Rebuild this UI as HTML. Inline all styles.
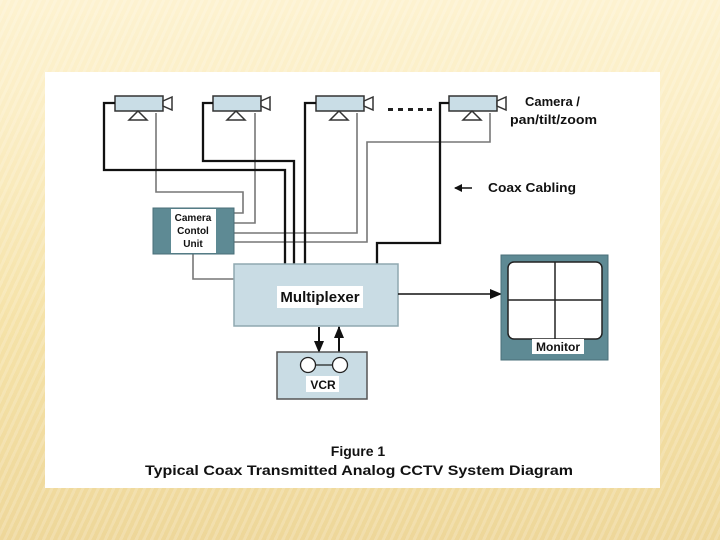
<!DOCTYPE html>
<html><head><meta charset="utf-8"><style>
html,body{margin:0;padding:0;}
body{width:720px;height:540px;overflow:hidden;position:relative;
background:
repeating-linear-gradient(115deg, rgba(255,255,255,0.18) 0 3px, rgba(0,0,0,0) 3px 7px),
linear-gradient(180deg,#fdf2d0 0%,#fbeec6 20%,#f5e2a8 60%,#eed79a 100%);}
#panel{position:absolute;left:45px;top:72px;width:615px;height:416px;background:#fff;}
svg{position:absolute;left:0;top:0;}
text{font-family:"Liberation Sans",Arial,sans-serif;font-weight:bold;fill:#111;}
</style></head><body>
<div id="panel"></div>
<svg width="720" height="540" viewBox="0 0 720 540">
<defs>
<g id="cam">
<rect x="0" y="0" width="48" height="15" fill="#c9dde6" stroke="#333" stroke-width="1.5"/>
<path d="M48 5 L57 1 L57 14 L48 10 Z" fill="#fff" stroke="#333" stroke-width="1.5"/>
<path d="M23 15 L14 24 L32 24 Z" fill="#fff" stroke="#333" stroke-width="1.5"/>
</g>
<marker id="ah" markerWidth="8" markerHeight="8" refX="7" refY="4" orient="auto" markerUnits="userSpaceOnUse"><path d="M0 0 L8 4 L0 8 Z" fill="#111"/></marker>
<marker id="ah2" markerWidth="12" markerHeight="10" refX="11" refY="5" orient="auto" markerUnits="userSpaceOnUse"><path d="M0 0 L12 5 L0 10 Z" fill="#111"/></marker>
</defs>
<use href="#cam" x="115" y="96"/>
<use href="#cam" x="213" y="96"/>
<use href="#cam" x="316" y="96"/>
<use href="#cam" x="449" y="96"/>
<g fill="#222"><rect x="388" y="108" width="5" height="3"/><rect x="398" y="108" width="5" height="3"/><rect x="408" y="108" width="5" height="3"/><rect x="418" y="108" width="5" height="3"/><rect x="427" y="108" width="5" height="3"/></g>
<text x="525" y="106" font-size="13">Camera /</text>
<text x="510" y="124" font-size="13" textLength="87" lengthAdjust="spacingAndGlyphs">pan/tilt/zoom</text>
<!-- gray control lines -->
<g fill="none" stroke="#777" stroke-width="1.6">
<polyline points="156,113 156,192 243,192 243,213 234,213"/>
<polyline points="255,113 255,223 234,223"/>
<polyline points="357,113 357,233 234,233"/>
<polyline points="490,113 490,142 367,142 367,242 234,242"/>
<polyline points="193,254 193,279 234,279"/>
</g>
<!-- black coax -->
<g fill="none" stroke="#111" stroke-width="2.3">
<polyline points="115,103 104,103 104,170 285,170 285,264"/>
<polyline points="213,103 203,103 203,161 294,161 294,264"/>
<polyline points="316,103 305,103 305,264"/>
<polyline points="449,103 440,103 440,243 377,243 377,264"/>
</g>
<line x1="472" y1="188" x2="455" y2="188" stroke="#111" stroke-width="1.6" marker-end="url(#ah)"/>
<text x="488" y="192" font-size="13" textLength="88" lengthAdjust="spacingAndGlyphs">Coax Cabling</text>
<!-- CCU -->
<rect x="153" y="208" width="81" height="46" fill="#5e8a94" stroke="#4a6f78"/>
<rect x="171" y="209" width="45" height="44" fill="#fff"/>
<text x="193" y="221" font-size="10" text-anchor="middle">Camera</text>
<text x="193" y="234" font-size="10" text-anchor="middle">Contol</text>
<text x="193" y="247" font-size="10" text-anchor="middle">Unit</text>
<!-- Multiplexer -->
<rect x="234" y="264" width="164" height="62" fill="#c9dce4" stroke="#8fa8b0" stroke-width="1.5"/>
<rect x="277" y="286" width="86" height="22" fill="#fff"/>
<text x="320" y="302" font-size="15" text-anchor="middle">Multiplexer</text>
<line x1="398" y1="294" x2="501" y2="294" stroke="#111" stroke-width="1.6" marker-end="url(#ah2)"/>
<!-- Monitor -->
<rect x="501" y="255" width="107" height="105" fill="#5e8a94" stroke="#4a6f78"/>
<rect x="508" y="262" width="94" height="77" rx="6" fill="#fff" stroke="#222" stroke-width="1.5"/>
<line x1="555" y1="262" x2="555" y2="339" stroke="#222" stroke-width="1.5"/>
<line x1="508" y1="300" x2="602" y2="300" stroke="#222" stroke-width="1.5"/>
<rect x="532" y="339" width="52" height="15" fill="#fff"/>
<text x="558" y="351" font-size="12" text-anchor="middle">Monitor</text>
<!-- VCR arrows -->
<line x1="319" y1="327" x2="319" y2="352" stroke="#111" stroke-width="2" marker-end="url(#ah2)"/>
<line x1="339" y1="352" x2="339" y2="327" stroke="#111" stroke-width="2" marker-end="url(#ah2)"/>
<rect x="277" y="352" width="90" height="47" fill="#c9dce4" stroke="#555" stroke-width="1.5"/>
<line x1="313" y1="365" x2="337" y2="365" stroke="#222" stroke-width="1.3"/>
<circle cx="308" cy="365" r="7.5" fill="#fff" stroke="#222" stroke-width="1.3"/>
<circle cx="340" cy="365" r="7.5" fill="#fff" stroke="#222" stroke-width="1.3"/>
<rect x="306" y="376" width="33" height="16" fill="#fff"/>
<text x="323" y="389" font-size="12" text-anchor="middle">VCR</text>
<text x="358" y="456" font-size="14" text-anchor="middle">Figure 1</text>
<text x="359" y="475" font-size="14" text-anchor="middle" textLength="428" lengthAdjust="spacingAndGlyphs">Typical Coax Transmitted Analog CCTV System Diagram</text>
</svg>
</body></html>
